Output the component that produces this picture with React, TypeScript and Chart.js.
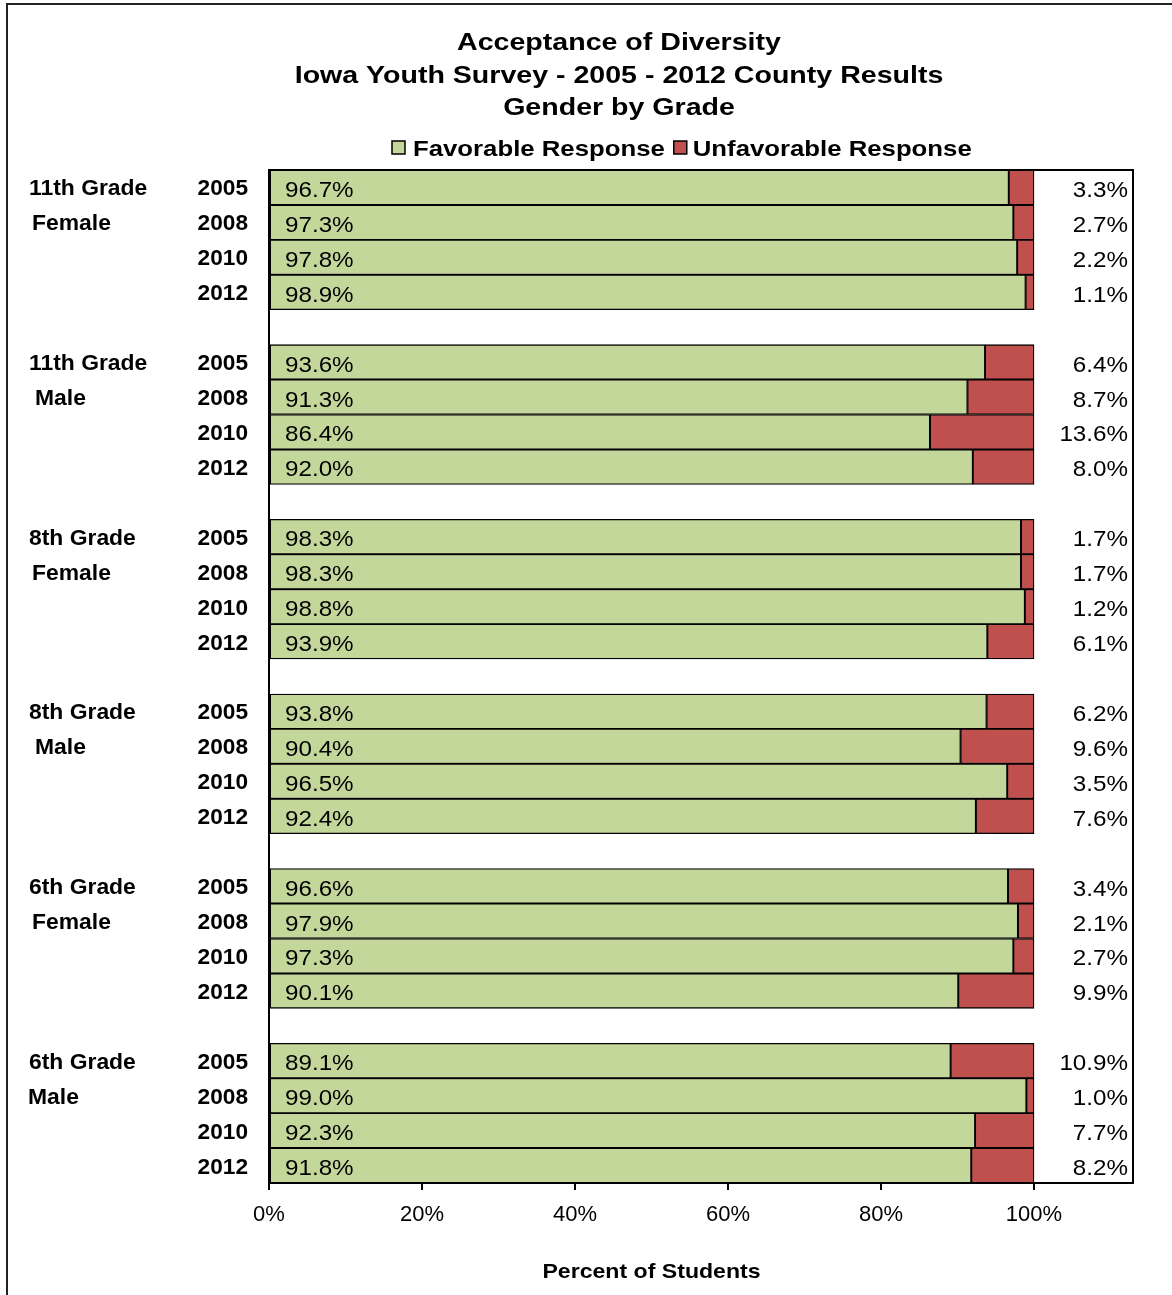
import React, { useEffect, useRef } from "react";
import { Chart, registerables } from "chart.js";

Chart.register(...registerables);

// ---------- data ----------
const groupNames: string[][] = [
  ["11th Grade", "Female"],
  ["11th Grade", "Male"],
  ["8th Grade", "Female"],
  ["8th Grade", "Male"],
  ["6th Grade", "Female"],
  ["6th Grade", "Male"],
];
const years: string[] = ["2005", "2008", "2010", "2012"];
const favorable: number[][] = [
  [96.7, 97.3, 97.8, 98.9],
  [93.6, 91.3, 86.4, 92.0],
  [98.3, 98.3, 98.8, 93.9],
  [93.8, 90.4, 96.5, 92.4],
  [96.6, 97.9, 97.3, 90.1],
  [89.1, 99.0, 92.3, 91.8],
];
const unfavorable: number[][] = [
  [3.3, 2.7, 2.2, 1.1],
  [6.4, 8.7, 13.6, 8.0],
  [1.7, 1.7, 1.2, 6.1],
  [6.2, 9.6, 3.5, 7.6],
  [3.4, 2.1, 2.7, 9.9],
  [10.9, 1.0, 7.7, 8.2],
];
const xTicks: number[] = [0, 20, 40, 60, 80, 100];
const seriesNames: string[] = ["Favorable Response", "Unfavorable Response"];
const titleLines: string[] = [
  "Acceptance of Diversity",
  "Iowa Youth Survey - 2005 - 2012 County Results",
  "Gender by Grade",
];
const axisTitle = "Percent of Students";

const FAV_COLOR = "#C4D79B";
const UNFAV_COLOR = "#C0504D";
const FONT = "'Liberation Sans', Arial, Helvetica, sans-serif";

// ---------- flatten rows (with blank gap rows between groups) ----------
const rowLabels: string[] = [];
const rowFav: (number | null)[] = [];
const rowUnfav: (number | null)[] = [];
const groupStartRows: number[] = [];
groupNames.forEach((_, g) => {
  groupStartRows.push(rowLabels.length);
  years.forEach((yr, i) => {
    rowLabels.push(yr);
    rowFav.push(favorable[g][i]);
    rowUnfav.push(unfavorable[g][i]);
  });
  if (g < groupNames.length - 1) {
    rowLabels.push("");
    rowFav.push(null);
    rowUnfav.push(null);
  }
});

function drawText(
  ctx: CanvasRenderingContext2D,
  text: string,
  x: number,
  y: number,
  size: number,
  bold: boolean,
  align: CanvasTextAlign,
  sx = 1
) {
  ctx.save();
  ctx.font = `${bold ? "bold " : ""}${size}px ${FONT}`;
  ctx.fillStyle = "#000";
  ctx.textAlign = align;
  ctx.textBaseline = "alphabetic";
  ctx.translate(x, y);
  ctx.scale(sx, 1);
  ctx.fillText(text, 0, 0);
  ctx.restore();
}

function measure(ctx: CanvasRenderingContext2D, text: string, size: number, bold: boolean, sx = 1) {
  ctx.save();
  ctx.font = `${bold ? "bold " : ""}${size}px ${FONT}`;
  const w = ctx.measureText(text).width * sx;
  ctx.restore();
  return w;
}

const customPlugin = {
  id: "customDecor",
  afterDatasetsDraw(chart: any) {
    const ctx: CanvasRenderingContext2D = chart.ctx;
    const xs = chart.scales.x;
    const ys = chart.scales.y;
    const area = chart.chartArea;

    // plot border
    ctx.save();
    ctx.strokeStyle = "#000";
    ctx.lineWidth = 2;
    ctx.strokeRect(area.left, area.top, area.right - area.left, area.bottom - area.top);
    ctx.restore();

    // value labels
    rowFav.forEach((v, i) => {
      if (v == null) return;
      const cy = ys.getPixelForValue(i);
      drawText(ctx, v.toFixed(1) + "%", xs.getPixelForValue(0) + 16, cy + 9.5, 22, false, "left", 1.1);
    });
    rowUnfav.forEach((v, i) => {
      if (v == null) return;
      const cy = ys.getPixelForValue(i);
      drawText(ctx, v.toFixed(1) + "%", area.right - 5, cy + 9.5, 22, false, "right", 1.1);
    });

    // year labels
    rowLabels.forEach((lab, i) => {
      if (!lab) return;
      const cy = ys.getPixelForValue(i);
      drawText(ctx, lab, 248, cy + 8, 22, true, "right", 1.03);
    });

    // group labels
    groupNames.forEach((lines, g) => {
      const r = groupStartRows[g];
      drawText(ctx, lines[0], 29, ys.getPixelForValue(r) + 8, 22, true, "left", 1.04);
      drawText(ctx, lines[1], lines[1] === "Male" && g < 5 ? 35 : g === 5 ? 28 : 32, ys.getPixelForValue(r + 1) + 8, 22, true, "left", 1.04);
    });
  },
  afterDraw(chart: any) {
    const ctx: CanvasRenderingContext2D = chart.ctx;
    const xs = chart.scales.x;

    // outer frame
    ctx.save();
    ctx.strokeStyle = "#222";
    ctx.lineWidth = 2;
    ctx.beginPath();
    ctx.moveTo(7, 1295);
    ctx.lineTo(7, 4);
    ctx.lineTo(1172, 4);
    ctx.stroke();
    ctx.restore();

    // title
    const tBase = [50, 83, 115];
    titleLines.forEach((t, i) => drawText(ctx, t, 619, tBase[i], 24, true, "center", 1.19));

    // legend
    const lsx = 1.17;
    const w1 = measure(ctx, seriesNames[0], 22, true, lsx);
    const box1 = 392;
    const box2 = 413 + w1 + 9;
    const colors = [FAV_COLOR, UNFAV_COLOR];
    [box1, box2].forEach((bx, i) => {
      ctx.save();
      ctx.fillStyle = colors[i];
      ctx.fillRect(bx, 141, 13, 13);
      ctx.strokeStyle = "#000";
      ctx.lineWidth = 1.5;
      ctx.strokeRect(bx, 141, 13, 13);
      ctx.restore();
    });
    drawText(ctx, seriesNames[0], box1 + 21, 156, 22, true, "left", lsx);
    drawText(ctx, seriesNames[1], box2 + 19, 156, 22, true, "left", lsx);

    // axis title centered over 0..100
    const cx = (xs.getPixelForValue(0) + xs.getPixelForValue(100)) / 2;
    drawText(ctx, axisTitle, cx, 1278, 21, true, "center", 1.1);
  },
};

export default function App() {
  const canvasRef = useRef<HTMLCanvasElement | null>(null);

  useEffect(() => {
    if (!canvasRef.current) return;
    const chart = new Chart(canvasRef.current, {
      type: "bar",
      data: {
        labels: rowLabels,
        datasets: [
          {
            label: seriesNames[0],
            data: rowFav as any,
            backgroundColor: FAV_COLOR,
            borderColor: "#000",
            borderWidth: 1.3,
            borderSkipped: false,
            categoryPercentage: 1,
            barPercentage: 1,
          },
          {
            label: seriesNames[1],
            data: rowUnfav as any,
            backgroundColor: UNFAV_COLOR,
            borderColor: "#000",
            borderWidth: 1.3,
            borderSkipped: false,
            categoryPercentage: 1,
            barPercentage: 1,
          },
        ],
      },
      options: {
        indexAxis: "y",
        animation: false,
        responsive: false,
        devicePixelRatio: 1,
        layout: { padding: { left: 269, top: 170, right: 39, bottom: 0 } },
        plugins: {
          legend: { display: false },
          title: { display: false },
          tooltip: { enabled: false },
        },
        scales: {
          x: {
            stacked: true,
            min: 0,
            max: 112.94,
            afterBuildTicks: (s: any) => {
              s.ticks = xTicks.map((v) => ({ value: v }));
            },
            afterFit: (s: any) => {
              s.height = 112;
            },
            ticks: {
              callback: (v: any) => v + "%",
              font: { family: FONT, size: 22 },
              color: "#000",
              padding: 12,
              maxRotation: 0,
              autoSkip: false,
            },
            grid: {
              drawOnChartArea: false,
              drawTicks: true,
              tickLength: 7,
              color: "#000",
              lineWidth: 2,
            },
            border: { display: true, color: "#000", width: 2 },
          },
          y: {
            stacked: true,
            display: false,
          },
        },
      },
      plugins: [customPlugin],
    } as any);
    return () => chart.destroy();
  }, []);

  return (
    <div style={{ position: "absolute", left: 0, top: 0, width: 1172, height: 1295, background: "#fff" }}>
      <canvas ref={canvasRef} width={1172} height={1295} style={{ display: "block" }} />
    </div>
  );
}
